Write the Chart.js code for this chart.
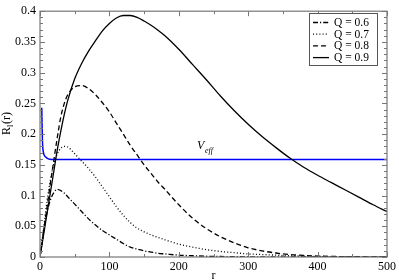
<!DOCTYPE html>
<html>
<head>
    <title>Radial functions R_l(r)</title>
    <script src="https://cdn.jsdelivr.net/npm/chart.js"></script>
    <style>
        body { margin: 0; background: #fff; }
        #wrap { width: 399px; height: 280px; }
    </style>
</head>
<body>
    <div id="wrap">
        <canvas id="radialGraph"></canvas>
    </div>

    <script>
        // r grid shared by the four Q curves
        const rValues = [0, 5, 10, 15, 20, 25, 30, 35, 40, 50, 60, 70, 80, 90, 100, 110, 120, 130, 140, 150,
            160, 170, 180, 200, 220, 240, 260, 280, 300, 320, 340, 360, 380, 400, 420, 440, 460, 480, 500];

        const q06 = [0, 0.04, 0.072, 0.093, 0.105, 0.11, 0.108, 0.104, 0.098, 0.086, 0.074, 0.062, 0.052, 0.043, 0.036, 0.029, 0.022, 0.016, 0.013, 0.01,
            0.008, 0.006, 0.005, 0.003, 0.002, 0.0012, 0.0008, 0.0005, 0.0003, 0.0002, 0.0001, 0, 0, 0, 0, 0, 0, 0, 0];
        const q07 = [0, 0.045, 0.09, 0.125, 0.152, 0.168, 0.177, 0.18, 0.179, 0.168, 0.156, 0.144, 0.13, 0.114, 0.098, 0.082, 0.068, 0.056, 0.047, 0.041,
            0.036, 0.032, 0.028, 0.021, 0.016, 0.012, 0.009, 0.007, 0.005, 0.004, 0.003, 0.002, 0.0015, 0.001, 0.0007, 0.0005, 0.0003, 0.0002, 0.0001];
        const q08 = [0, 0.04, 0.08, 0.12, 0.158, 0.195, 0.228, 0.25, 0.264, 0.277, 0.279, 0.274, 0.264, 0.251, 0.236, 0.218, 0.2, 0.182, 0.166, 0.15,
            0.136, 0.122, 0.11, 0.085, 0.063, 0.046, 0.033, 0.023, 0.015, 0.01, 0.0065, 0.004, 0.0025, 0.0015, 0.001, 0.0006, 0.0004, 0.0002, 0.0001];
        const q09 = [0, 0.035, 0.07, 0.105, 0.14, 0.175, 0.205, 0.232, 0.255, 0.29, 0.315, 0.335, 0.352, 0.368, 0.38, 0.389, 0.393, 0.393, 0.39, 0.384,
            0.377, 0.369, 0.36, 0.338, 0.313, 0.288, 0.262, 0.238, 0.216, 0.196, 0.178, 0.161, 0.146, 0.133, 0.121, 0.109, 0.097, 0.085, 0.074];

        // effective potential
        const rVeff = [2.5, 3, 3.5, 4, 5, 6, 8, 10, 14, 20, 500];
        const veff = [0.243, 0.215, 0.19, 0.178, 0.17, 0.166, 0.163, 0.161, 0.159, 0.1585, 0.1585];

        const legendLabels = ["Q = 0.6", "Q = 0.7", "Q = 0.8", "Q = 0.9"];
        const xTicks = [0, 100, 200, 300, 400, 500];
        const yTicks = [0, 0.05, 0.1, 0.15, 0.2, 0.25, 0.3, 0.35, 0.4];

        const dashes = [[5, 2, 1.2, 2], [1, 2.2], [5, 3], []];

        function toPoints(xs, ys) {
            return xs.map((x, i) => ({ x: x, y: ys[i] }));
        }

        const serif = "'Liberation Serif', 'DejaVu Serif', serif";

        // frame, inward ticks, legend box and extra labels
        const decorations = {
            id: "decorations",
            afterDraw(chart) {
                const ctx = chart.ctx;
                const a = chart.chartArea;
                const xs = chart.scales.x, ys = chart.scales.y;
                ctx.save();
                ctx.strokeStyle = "#777";
                ctx.lineWidth = 1.2;
                ctx.strokeRect(a.left, a.top, a.right - a.left, a.bottom - a.top);

                ctx.lineWidth = 1;
                ctx.beginPath();
                for (let v = 0; v <= 500; v += 50) {
                    const px = Math.round(xs.getPixelForValue(v)) + 0.5;
                    const len = v % 100 === 0 ? 5 : 3;
                    ctx.moveTo(px, a.bottom); ctx.lineTo(px, a.bottom - len);
                    ctx.moveTo(px, a.top); ctx.lineTo(px, a.top + len);
                }
                for (let i = 0; i <= 40; i++) {
                    const py = Math.round(ys.getPixelForValue(i / 100)) + 0.5;
                    const len = i % 5 === 0 ? 5 : 3;
                    ctx.moveTo(a.left, py); ctx.lineTo(a.left + len, py);
                    ctx.moveTo(a.right, py); ctx.lineTo(a.right - len, py);
                }
                ctx.stroke();

                // legend
                const bx = 309, by = 13, bw = 68, bh = 52;
                ctx.fillStyle = "#fff";
                ctx.fillRect(bx, by, bw, bh);
                ctx.strokeStyle = "#555";
                ctx.strokeRect(bx + 0.5, by + 0.5, bw, bh);
                ctx.font = "11.5px " + serif;
                ctx.textBaseline = "middle";
                ctx.textAlign = "left";
                legendLabels.forEach((label, i) => {
                    const y = by + 9.5 + i * 11.7;
                    ctx.strokeStyle = "#000";
                    ctx.lineWidth = 1.3;
                    ctx.setLineDash(dashes[i]);
                    ctx.beginPath();
                    ctx.moveTo(bx + 4, y); ctx.lineTo(bx + 20, y);
                    ctx.stroke();
                    ctx.setLineDash([]);
                    ctx.fillStyle = "#000";
                    ctx.fillText(label, bx + 25, y + 0.5);
                });

                // V_eff label
                ctx.fillStyle = "#000";
                ctx.textBaseline = "alphabetic";
                ctx.font = "italic 12px " + serif;
                ctx.fillText("V", 197, 149);
                ctx.font = "italic 8px " + serif;
                ctx.fillText("eff", 205, 153);

                // axis titles
                ctx.font = "12px " + serif;
                ctx.textAlign = "center";
                ctx.fillText("r", (a.left + a.right) / 2, 279);

                ctx.translate(10, 122);
                ctx.rotate(-Math.PI / 2);
                ctx.textAlign = "left";
                ctx.font = "12px " + serif;
                ctx.fillText("R", -13, 0);
                ctx.font = "8px " + serif;
                ctx.fillText("l", -5, 3);
                ctx.font = "12px " + serif;
                ctx.fillText("(r)", -2, 0);
                ctx.restore();
            }
        };

        const ctx = document.getElementById("radialGraph").getContext("2d");
        const curveSets = [q06, q07, q08, q09].map((vals, i) => ({
            label: legendLabels[i],
            data: toPoints(rValues, vals),
            borderColor: "#000",
            borderWidth: 1.3,
            borderDash: dashes[i],
            pointRadius: 0,
            cubicInterpolationMode: "monotone",
            fill: false
        }));
        curveSets.push({
            label: "Veff",
            data: toPoints(rVeff, veff),
            borderColor: "#0000ff",
            borderWidth: 1.5,
            pointRadius: 0,
            cubicInterpolationMode: "monotone",
            fill: false
        });

        const myChart = new Chart(ctx, {
            type: "line",
            data: { datasets: curveSets },
            options: {
                responsive: true,
                maintainAspectRatio: false,
                animation: false,
                layout: { padding: { left: 0, right: 9, top: 5, bottom: 0 } },
                plugins: {
                    legend: { display: false },
                    tooltip: { enabled: false }
                },
                scales: {
                    x: {
                        type: "linear",
                        min: 0,
                        max: 500,
                        afterFit: s => { s.height = 23; },
                        afterBuildTicks: s => { s.ticks = xTicks.map(v => ({ value: v })); },
                        grid: { display: false, drawTicks: false, tickLength: 0 },
                        border: { display: false },
                        ticks: { color: "#000", padding: 3, maxRotation: 0, font: { family: serif, size: 12 } }
                    },
                    y: {
                        min: 0,
                        max: 0.4,
                        afterFit: s => { s.width = 40; },
                        afterBuildTicks: s => { s.ticks = yTicks.map(v => ({ value: v })); },
                        grid: { display: false, drawTicks: false, tickLength: 0 },
                        border: { display: false },
                        ticks: {
                            color: "#000",
                            padding: 4,
                            font: { family: serif, size: 12 },
                            callback: v => String(+v.toFixed(2))
                        }
                    }
                }
            },
            plugins: [decorations]
        });
    </script>
</body>
</html>
